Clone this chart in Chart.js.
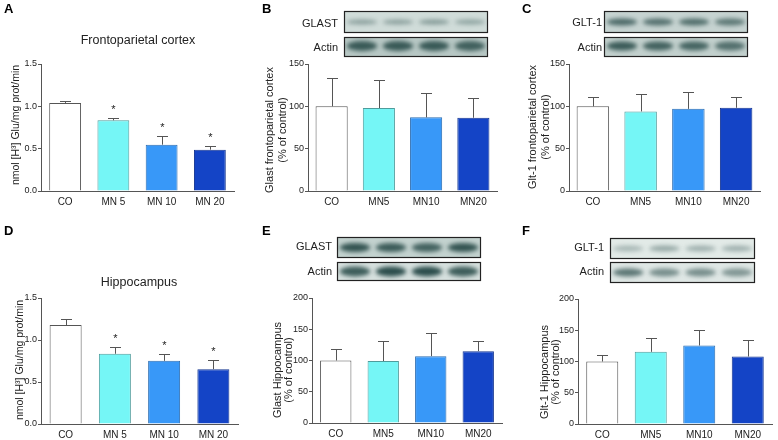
<!DOCTYPE html>
<html>
<head>
<meta charset="utf-8">
<script src="https://cdn.jsdelivr.net/npm/chart.js@4.4.1/dist/chart.umd.min.js"></script>
<style>
  body { margin: 0; background: #fff; }
  #fig { position: relative; width: 778px; height: 440px; }
  #fig canvas { position: absolute; }
</style>
</head>
<body>
<div id="fig"></div>
<script>
// group labels
const groups = ['CO', 'MN5', 'MN10', 'MN20'];
const groupsSpaced = ['CO', 'MN 5', 'MN 10', 'MN 20'];

// A - glutamate uptake, frontoparietal cortex
const uptakeCortex = [1.04, 0.835, 0.547, 0.488];
const uptakeCortexSem = [0.027, 0.025, 0.10, 0.047];
// B - GLAST, frontoparietal cortex
const glastCortex = [100, 98, 87, 86.5];
const glastCortexSem = [33, 33, 29, 23];
// C - GLT-1, frontoparietal cortex
const glt1Cortex = [100, 94, 97, 98.3];
const glt1CortexSem = [10.5, 20.5, 20.5, 12.7];
// D - glutamate uptake, hippocampus
const uptakeHippo = [1.178, 0.836, 0.752, 0.653];
const uptakeHippoSem = [0.072, 0.084, 0.076, 0.107];
// E - GLAST, hippocampus
const glastHippo = [100, 99.2, 107, 115];
const glastHippoSem = [19, 32, 37, 17];
// F - GLT-1, hippocampus
const glt1Hippo = [100, 115.5, 125.6, 108];
const glt1HippoSem = [11, 21.5, 25.4, 26];

const significant = [false, true, true, true];

const fills = ['#ffffff', '#75f6f6', '#3898f8', '#1444c6'];
const edges = ['#555555', '#4f9c9c', '#2b6cb0', '#143590'];

const FONT = '"Liberation Sans", Arial, Helvetica, sans-serif';
Chart.defaults.font.family = FONT;
Chart.defaults.color = '#222';

function drawBlot(ctx, b) {
    ctx.save();
    ctx.fillStyle = b.bg;
    ctx.fillRect(b.x, b.y, b.w, b.h);
    ctx.beginPath();
    ctx.rect(b.x, b.y, b.w, b.h);
    ctx.clip();
    ctx.filter = 'blur(' + b.blur + 'px)';
    const lane = b.w / 4;
    b.dark.forEach((a, i) => {
        const cx = b.x + lane * (i + 0.5);
        const cy = b.y + b.h * b.pos;
        ctx.fillStyle = 'rgba(35,70,68,' + a + ')';
        ctx.beginPath();
        ctx.ellipse(cx, cy, lane * 0.42, b.band / 2, 0, 0, Math.PI * 2);
        ctx.fill();
    });
    ctx.restore();
    ctx.save();
    ctx.strokeStyle = '#222';
    ctx.lineWidth = 1.2;
    ctx.strokeRect(b.x + 0.5, b.y + 0.5, b.w - 1, b.h - 1);
    ctx.fillStyle = '#222';
    ctx.font = '11px ' + FONT;
    ctx.textAlign = 'right';
    ctx.textBaseline = 'middle';
    ctx.fillText(b.label, b.labelX, b.labelY);
    ctx.restore();
}

function makePanel(p) {
    const canvas = document.createElement('canvas');
    canvas.width = p.w;
    canvas.height = p.h;
    canvas.style.left = p.x + 'px';
    canvas.style.top = p.y + 'px';
    canvas.style.width = p.w + 'px';
    canvas.style.height = p.h + 'px';
    document.getElementById('fig').appendChild(canvas);

    const errorBars = {
        id: 'errorBars',
        afterDatasetsDraw(chart) {
            const ctx = chart.ctx;
            const y = chart.scales.y;
            const meta = chart.getDatasetMeta(0);
            ctx.save();
            ctx.strokeStyle = '#555';
            ctx.lineWidth = 1;
            meta.data.forEach((bar, i) => {
                const top = Math.round(y.getPixelForValue(p.values[i] + p.sem[i])) + 0.5;
                const x = Math.round(bar.x) + 0.5;
                ctx.beginPath();
                ctx.moveTo(x, bar.y);
                ctx.lineTo(x, top);
                ctx.moveTo(x - 5.5, top);
                ctx.lineTo(x + 5.5, top);
                ctx.stroke();
                if (p.stars && p.stars[i]) {
                    ctx.fillStyle = '#222';
                    ctx.font = '11px ' + FONT;
                    ctx.textAlign = 'center';
                    ctx.fillText('*', x, top - 6);
                }
            });
            ctx.restore();
        }
    };

    const decor = {
        id: 'decor',
        afterDraw(chart) {
            const ctx = chart.ctx;
            ctx.save();
            ctx.fillStyle = '#000';
            ctx.font = 'bold 13px ' + FONT;
            ctx.textBaseline = 'top';
            ctx.fillText(p.letter, p.letterX, p.letterY);
            if (p.heading) {
                ctx.font = '12.5px ' + FONT;
                ctx.textAlign = 'center';
                ctx.textBaseline = 'middle';
                ctx.fillStyle = '#222';
                ctx.fillText(p.heading, p.headingX, p.headingY);
            }
            ctx.fillStyle = '#222';
            ctx.font = p.yTitleSize + 'px ' + FONT;
            ctx.textAlign = 'center';
            ctx.textBaseline = 'middle';
            p.yTitle.forEach((line, i) => {
                ctx.save();
                ctx.translate(p.yTitleX + i * p.yTitleGap, p.yTitleY);
                ctx.rotate(-Math.PI / 2);
                ctx.fillText(line, 0, 0);
                ctx.restore();
            });
            ctx.restore();
            (p.blots || []).forEach(b => drawBlot(ctx, b));
        }
    };

    new Chart(canvas, {
        type: 'bar',
        data: {
            labels: p.labels,
            datasets: [{
                data: p.values,
                backgroundColor: fills,
                borderColor: edges,
                borderWidth: 1,
                categoryPercentage: 1,
                barPercentage: p.barPct
            }]
        },
        options: {
            responsive: false,
            animation: false,
            devicePixelRatio: 1,
            layout: { padding: { left: 0, top: p.top, right: p.w - p.right, bottom: 0 } },
            plugins: { legend: { display: false }, tooltip: { enabled: false } },
            scales: {
                x: {
                    grid: { display: false, drawTicks: false, tickLength: 0 },
                    border: { display: true, color: '#555', width: 1 },
                    ticks: { font: { size: 10 }, color: '#222', padding: 5 },
                    afterFit(scale) { scale.height = p.h - p.bottom; }
                },
                y: {
                    min: 0,
                    max: p.max,
                    ticks: {
                        stepSize: p.step,
                        font: { size: 9 },
                        color: '#222',
                        padding: 1,
                        callback: v => p.decimals ? v.toFixed(1) : v
                    },
                    grid: { drawOnChartArea: false, tickLength: 3, color: '#555' },
                    border: { display: true, color: '#555', width: 1 },
                    afterFit(scale) { scale.width = p.left; }
                }
            }
        },
        plugins: [errorBars, decor]
    });
}

makePanel({
    x: 0, y: 0, w: 260, h: 220, left: 41, right: 234, top: 64, bottom: 191,
    labels: groupsSpaced, values: uptakeCortex, sem: uptakeCortexSem, stars: significant,
    max: 1.5, step: 0.5, decimals: true, barPct: 0.66,
    letter: 'A', letterX: 4, letterY: 3,
    heading: 'Frontoparietal cortex', headingX: 138, headingY: 41,
    yTitle: ['nmol [H\u00B3] Glu/mg prot/min'], yTitleSize: 10.5, yTitleGap: 0, yTitleX: 16, yTitleY: 125
});

makePanel({
    x: 260, y: 0, w: 260, h: 220, left: 48, right: 237, top: 64, bottom: 191,
    labels: groups, values: glastCortex, sem: glastCortexSem,
    max: 150, step: 50, barPct: 0.68,
    letter: 'B', letterX: 2, letterY: 3,
    yTitle: ['Glast frontoparietal cortex', '(% of control)'], yTitleSize: 11, yTitleGap: 13, yTitleX: 10, yTitleY: 130,
    blots: [
        { x: 84, y: 11, w: 144, h: 22, bg: '#d0dcd9', dark: [0.4, 0.4, 0.45, 0.38], pos: 0.5, band: 5, blur: 2, label: 'GLAST', labelX: 78, labelY: 24 },
        { x: 84, y: 37, w: 144, h: 20, bg: '#b7c7c4', dark: [0.85, 0.85, 0.85, 0.8], pos: 0.45, band: 10, blur: 2, label: 'Actin', labelX: 78, labelY: 48 }
    ]
});

makePanel({
    x: 520, y: 0, w: 258, h: 220, left: 49, right: 240, top: 64, bottom: 191,
    labels: groups, values: glt1Cortex, sem: glt1CortexSem,
    max: 150, step: 50, barPct: 0.68,
    letter: 'C', letterX: 2, letterY: 3,
    yTitle: ['Glt-1 frontoparietal cortex', '(% of control)'], yTitleSize: 11, yTitleGap: 13, yTitleX: 13, yTitleY: 127,
    blots: [
        { x: 84, y: 11, w: 144, h: 22, bg: '#c6d3d1', dark: [0.75, 0.7, 0.72, 0.65], pos: 0.5, band: 7, blur: 2, label: 'GLT-1', labelX: 82, labelY: 23 },
        { x: 84, y: 37, w: 144, h: 20, bg: '#c2d0cd', dark: [0.85, 0.8, 0.78, 0.7], pos: 0.45, band: 9, blur: 2, label: 'Actin', labelX: 82, labelY: 48 }
    ]
});

makePanel({
    x: 0, y: 220, w: 260, h: 220, left: 41, right: 238, top: 78, bottom: 204,
    labels: groupsSpaced, values: uptakeHippo, sem: uptakeHippoSem, stars: significant,
    max: 1.5, step: 0.5, decimals: true, barPct: 0.65,
    letter: 'D', letterX: 4, letterY: 5,
    heading: 'Hippocampus', headingX: 139, headingY: 63,
    yTitle: ['nmol [H\u00B3] Glu/mg prot/min'], yTitleSize: 10.5, yTitleGap: 0, yTitleX: 20, yTitleY: 140
});

makePanel({
    x: 260, y: 220, w: 260, h: 220, left: 52, right: 242, top: 78, bottom: 203,
    labels: groups, values: glastHippo, sem: glastHippoSem,
    max: 200, step: 50, barPct: 0.66,
    letter: 'E', letterX: 2, letterY: 5,
    yTitle: ['Glast Hippocampus', '(% of control)'], yTitleSize: 11, yTitleGap: 11, yTitleX: 18, yTitleY: 150,
    blots: [
        { x: 77, y: 17, w: 144, h: 21, bg: '#c3d2cf', dark: [0.9, 0.85, 0.8, 0.9], pos: 0.5, band: 9, blur: 2, label: 'GLAST', labelX: 72, labelY: 27 },
        { x: 77, y: 42, w: 144, h: 19, bg: '#d6e0de', dark: [0.85, 0.95, 0.95, 0.85], pos: 0.5, band: 10, blur: 2, label: 'Actin', labelX: 72, labelY: 52 }
    ]
});

makePanel({
    x: 520, y: 220, w: 258, h: 220, left: 58, right: 252, top: 79, bottom: 204,
    labels: groups, values: glt1Hippo, sem: glt1HippoSem,
    max: 200, step: 50, barPct: 0.66,
    letter: 'F', letterX: 2, letterY: 5,
    yTitle: ['Glt-1 Hippocampus', '(% of control)'], yTitleSize: 11, yTitleGap: 11, yTitleX: 25, yTitleY: 152,
    blots: [
        { x: 90, y: 18, w: 145, h: 21, bg: '#e2eae7', dark: [0.3, 0.4, 0.35, 0.35], pos: 0.5, band: 6, blur: 2, label: 'GLT-1', labelX: 84, labelY: 28 },
        { x: 90, y: 42, w: 145, h: 21, bg: '#dfe7e5', dark: [0.7, 0.55, 0.55, 0.5], pos: 0.5, band: 8, blur: 2, label: 'Actin', labelX: 84, labelY: 52 }
    ]
});
</script>
</body>
</html>
